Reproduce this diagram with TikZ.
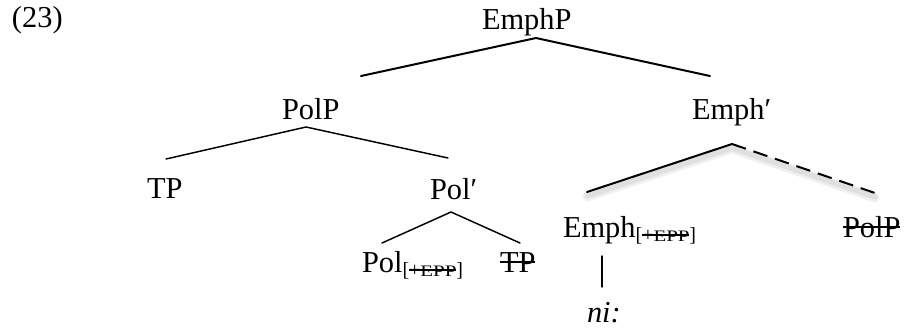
\documentclass[tikz,border=0pt]{standalone}
\usepackage{fontspec}
\setmainfont{Liberation Serif}
\usepackage{graphicx}
\newcommand\strk[1]{\setbox0\hbox{#1}\rlap{\rule[0.3em]{\wd0}{0.06em}}\box0}
\newcommand\epp{\raisebox{-3.5pt}{\fontsize{15}{17}\selectfont[\strk{+\scalebox{1.3}[1]{\fontsize{12}{14}\selectfont EPP}}]}}
\tikzset{
  lbl/.style={anchor=base west, inner sep=0pt, outer sep=0pt, font=\fontsize{22.8}{27}\selectfont},
  branch/.style={line width=1.1pt, line cap=round},
  thickbranch/.style={line width=1.5pt, line cap=round},
  shadowline/.style={line width=4pt, draw=black!12, line cap=round},
}
\begin{document}
\begin{tikzpicture}[x=0.75pt,y=-0.75pt]
\useasboundingbox (0,0) rectangle (906,329);
% labels
\node[lbl] (ex) at (12,27) {(23)};
\node[lbl] (emphp) at (482,29) {EmphP};
\node[lbl] (polp) at (282,119) {PolP};
\node[lbl] (emphbar) at (692,119) {Emph′};
\node[lbl] (tp) at (147,198) {TP};
\node[lbl] (polbar) at (430,199) {Pol′};
\node[lbl] (pol) at (362,272) {Pol\epp};
\node[lbl] (tpcopy) at (500,272) {\strk{TP}};
\node[lbl] (emph) at (563,237) {Emph\epp};
\node[lbl] (polpcopy) at (843,237) {\strk{PolP}};
\node[lbl] (ni) at (587,322) {\itshape ni:};
% branch points
\coordinate (a1) at (536,38);
\coordinate (a1l) at (361,76);
\coordinate (a1r) at (710,76);
\coordinate (a2) at (306,127);
\coordinate (a2l) at (166,159);
\coordinate (a2r) at (448,158);
\coordinate (a3) at (451,212);
\coordinate (a3l) at (382,243);
\coordinate (a3r) at (520,243);
\coordinate (a4) at (732,144);
\coordinate (a4l) at (587,192);
\coordinate (a4r) at (875,193);
\coordinate (v1) at (602,256);
\coordinate (v2) at (602,287);
% shadows
\draw[shadowline, draw=black!6, line width=7pt] ([yshift=-3.5pt]a4l) -- ([yshift=-3.5pt]a4) -- ([yshift=-3.5pt]a4r);
\draw[shadowline] ([yshift=-3pt]a4l) -- ([yshift=-3pt]a4) -- ([yshift=-3pt]a4r);
% branches
\draw[thickbranch] (a1l) -- (a1) -- (a1r);
\draw[branch] (a2l) -- (a2) -- (a2r);
\draw[branch] (a3l) -- (a3) -- (a3r);
\draw[thickbranch] (a4l) -- (a4);
\draw[thickbranch, line cap=butt, dash pattern=on 11pt off 6pt] (a4) -- (a4r);
\draw[branch] (v1) -- (v2);
\end{tikzpicture}
\end{document}
